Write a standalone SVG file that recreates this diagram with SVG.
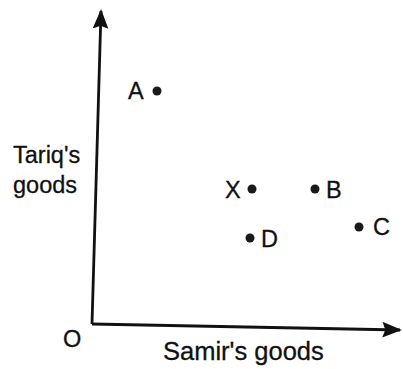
<svg xmlns="http://www.w3.org/2000/svg" width="403" height="369" viewBox="0 0 403 369">
<style>
text{font-family:"Liberation Sans",Arial,sans-serif;font-size:23.5px;fill:#111;stroke:#111;stroke-width:0.3}
.pt{fill:#1a1a1a}
.ax{stroke:#111;stroke-width:2.8;fill:none}
</style>
<defs>
<marker id="ah" viewBox="0 0 10 10" refX="9" refY="5" markerWidth="7" markerHeight="7" orient="auto" markerUnits="strokeWidth">
<path d="M0,1 L10,5 L0,9 L1.5,5 Z" fill="#111"/>
</marker>
</defs>
<rect width="403" height="369" fill="#fff"/>
<g id="connectors">
<path class="ax" d="M92,324 L101,11" marker-end="url(#ah)"/>
<path class="ax" d="M92,324 L400,330" marker-end="url(#ah)"/>
</g>
<g id="origin"><text x="63" y="347">O</text></g>
<g id="xlabel"><text x="163" y="360" style="font-size:25.5px">Samir's goods</text></g>
<g id="ylabel"><text x="13" y="163">Tariq's</text><text x="13" y="193">goods</text></g>
<g id="A"><circle class="pt" cx="157" cy="91" r="4.5"/><text x="128" y="99">A</text></g>
<g id="X"><circle class="pt" cx="252" cy="189" r="4.5"/><text x="225" y="198">X</text></g>
<g id="B"><circle class="pt" cx="315" cy="189" r="4.5"/><text x="326" y="198">B</text></g>
<g id="C"><circle class="pt" cx="359" cy="227" r="4.5"/><text x="373" y="235">C</text></g>
<g id="D"><circle class="pt" cx="250" cy="238" r="4.5"/><text x="261" y="247">D</text></g>
</svg>
